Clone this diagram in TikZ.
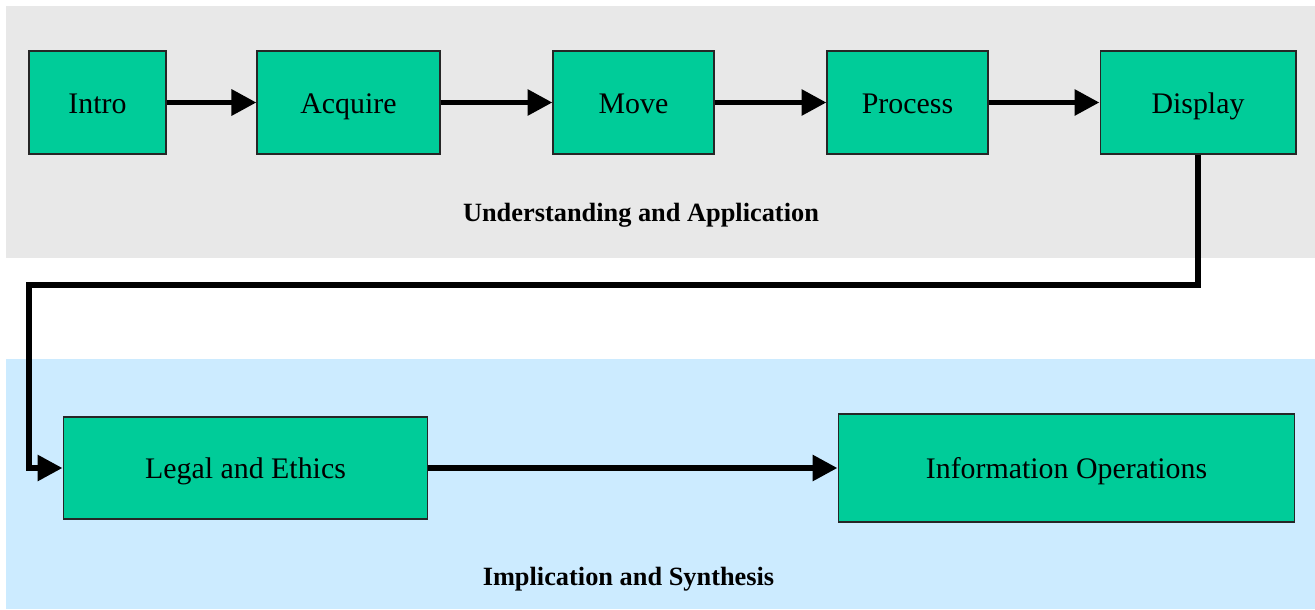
\documentclass[tikz,border=0pt]{standalone}
\usepackage{fontspec}
\setmainfont{Liberation Serif}
\usetikzlibrary{arrows.meta}
\definecolor{boxgreen}{HTML}{00CC99}
\definecolor{bandgray}{HTML}{E8E8E8}
\definecolor{bandblue}{HTML}{CCEBFF}

\begin{document}
\begin{tikzpicture}
  [x=0.02cm, y=-0.02cm,
   stage/.style={rectangle, draw=black!85, line width=0.6pt, fill=boxgreen, inner sep=0pt,
                 minimum height=2.06cm, text height=14pt, text depth=2pt,
                 font=\fontsize{17}{20}\selectfont},
   flow/.style={line width=3.4pt, -{Triangle[length=0.5cm,width=0.5cm]}},
   band label/.style={text height=10pt, text depth=0pt, font=\fontsize{15}{18}\selectfont\bfseries}]
  \useasboundingbox (0,0) rectangle (1315,609);
  \fill[bandgray] (6,6) rectangle (1315,258);
  \fill[bandblue] (6,359) rectangle (1315,609);
  \node[stage, minimum width=2.74cm] (intro) at (97.5,102.5) {Intro};
  \node[stage, minimum width=3.66cm] (acquire) at (348.5,102.5) {Acquire};
  \node[stage, minimum width=3.22cm] (move) at (633.5,102.5) {Move};
  \node[stage, minimum width=3.22cm] (process) at (907.5,102.5) {Process};
  \node[stage, minimum width=3.92cm] (display) at (1198,102.5) {Display};
  \node[stage, minimum width=7.3cm, minimum height=2.04cm] (legal) at (245.5,468) {Legal and Ethics};
  \node[stage, minimum width=9.14cm, minimum height=2.16cm] (infoops) at (1066.5,468) {Information Operations};
  \node[band label] (understanding) at (641,212.5) {Understanding and Application};
  \node[band label] (implication) at (628.5,576.5) {Implication and Synthesis};
  \coordinate (turn) at (29,285);
  \draw[flow] (intro) -- (acquire);
  \draw[flow] (acquire) -- (move);
  \draw[flow] (move) -- (process);
  \draw[flow] (process) -- (display);
  \draw[flow] (display.south) |- (turn) |- (legal.west);
  \draw[flow] (legal) -- (infoops);
\end{tikzpicture}
\end{document}
